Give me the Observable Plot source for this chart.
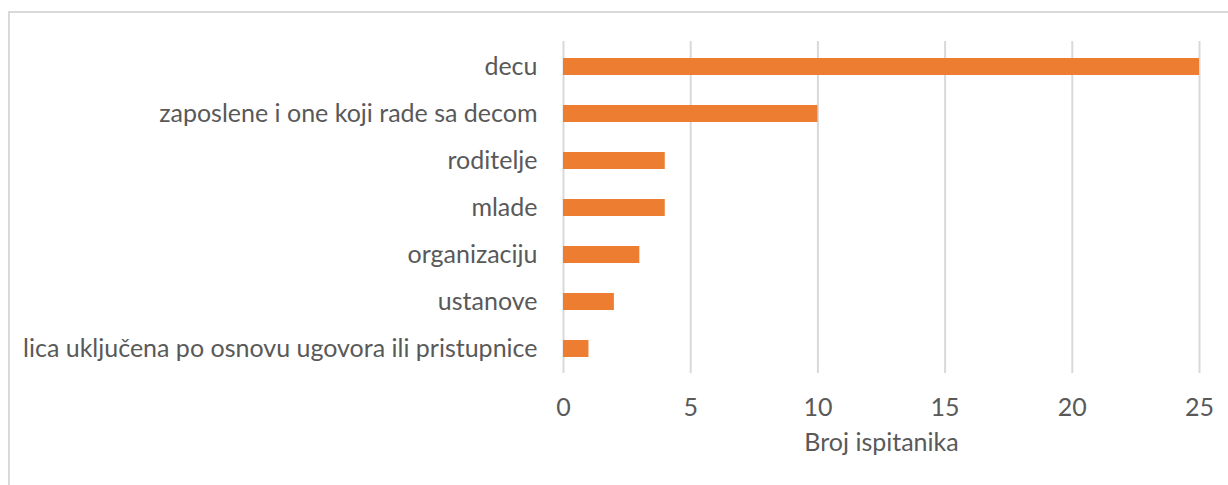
<!DOCTYPE html>
<html>
<head>
<meta charset="utf-8">
<script src="https://cdn.jsdelivr.net/npm/d3@7"></script>
<script src="https://cdn.jsdelivr.net/npm/@observablehq/plot@0.6"></script>
<style>
  html, body { margin: 0; padding: 0; background: #fff; }
  #wrap { position: relative; width: 1228px; height: 485px; overflow: hidden; }
  #frame { position: absolute; left: 8px; top: 11px; width: 1400px; height: 600px;
           border-top: 2px solid #d9d9d9; border-left: 2px solid #d9d9d9; }
  #chart { position: absolute; left: 0; top: 0; }
</style>
</head>
<body>
<div id="wrap"><div id="frame"></div><div id="chart"></div></div>
<script>
const categories = [
  "decu",
  "zaposlene i one koji rade sa decom",
  "roditelje",
  "mlade",
  "organizaciju",
  "ustanove",
  "lica uključena po osnovu ugovora ili pristupnice"
];
const values = [25, 10, 4, 4, 3, 2, 1];
const xTicks = [0, 5, 10, 15, 20, 25];
const xLabel = "Broj ispitanika";

const data = categories.map((c, i) => ({category: c, value: values[i]}));

const FS = 25;
const chart = Plot.plot({
  width: 1228,
  height: 485,
  marginLeft: 563,
  marginRight: 29,
  marginTop: 41,
  marginBottom: 112,
  style: {fontFamily: "Lato, sans-serif", fontSize: FS + "px", color: "#595959", background: "transparent"},
  x: {domain: [0, 25]},
  y: {domain: categories, paddingInner: 0.64, paddingOuter: 0.32},
  marks: [
    Plot.gridX(xTicks, {stroke: "#d9d9d9", strokeOpacity: 1, strokeWidth: 2}),
    Plot.barX(data, {x: "value", y: "category", fill: "#ED7D31"}),
    Plot.axisY({tickSize: 0, tickPadding: 26, label: null, fontSize: FS}),
    Plot.axisX(xTicks, {tickSize: 0, tickPadding: 25, label: null, fontSize: FS}),
    Plot.text([xLabel], {frameAnchor: "bottom", dy: 77, fontSize: FS, fill: "#595959"})
  ]
});
document.getElementById("chart").appendChild(chart);
</script>
</body>
</html>
